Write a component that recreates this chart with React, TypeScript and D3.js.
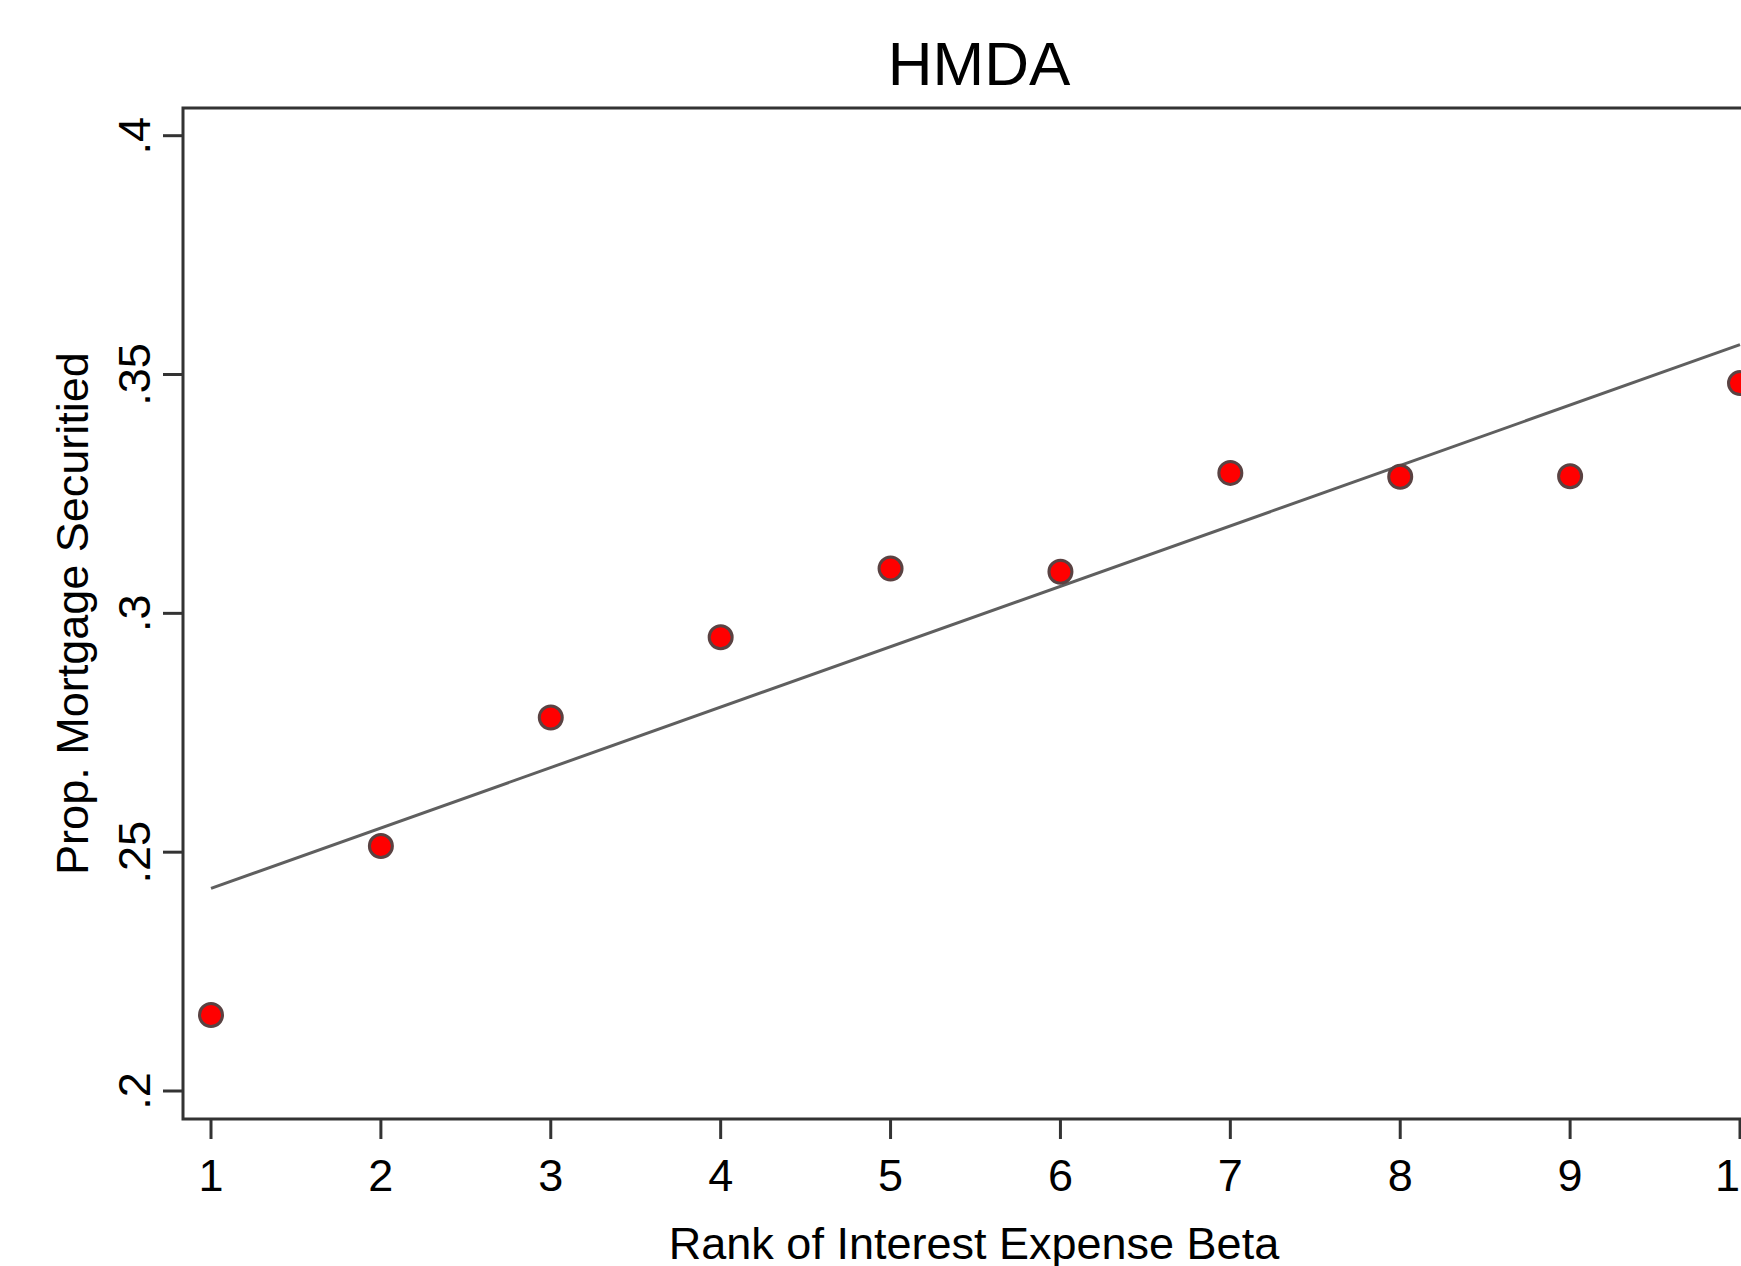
import React, { useEffect } from 'react';
import * as d3 from 'd3';

// data
const ranks = [1, 2, 3, 4, 5, 6, 7, 8, 9, 10];
const propSecuritized = [0.2159, 0.2513, 0.2782, 0.295, 0.3094, 0.3087, 0.3294, 0.3286, 0.3287, 0.3482];
const yTicks = [0.2, 0.25, 0.3, 0.35, 0.4];
const yTickLabels = ['.2', '.25', '.3', '.35', '.4'];
const xTicks = [1, 2, 3, 4, 5, 6, 7, 8, 9, 10];

const W = 1741;
const H = 1266;
const frame = { left: 183, top: 108, right: 1768, bottom: 1119 };
const font = '"Liberation Sans", Arial, sans-serif';

const App = () => {
  useEffect(() => {
    document.body.style.margin = '0';
    document.body.style.overflow = 'hidden';
  }, []);

  const x = d3.scaleLinear().domain([1, 10]).range([211, 1740]);
  const y = d3.scaleLinear().domain([0.2, 0.4]).range([1091, 135.7]);

  // linear fit (least squares) of the points
  const mx = d3.mean(ranks);
  const my = d3.mean(propSecuritized);
  const sxy = d3.sum(ranks, (r, i) => (r - mx) * (propSecuritized[i] - my));
  const sxx = d3.sum(ranks, r => (r - mx) ** 2);
  const slope = sxy / sxx;
  const intercept = my - slope * mx;
  const fitX = [d3.min(ranks), d3.max(ranks)];
  const line = d3.line().x(d => x(d[0])).y(d => y(d[1]));
  const fitPath = line(fitX.map(v => [v, intercept + slope * v]));

  return (
    <svg width={W} height={H} style={{ position: 'absolute', left: 0, top: 0, background: '#fff' }}>
      <rect x={0} y={0} width={W} height={H} fill="#fff" />
      <text x={979} y={85} textAnchor="middle" fontFamily={font} fontSize={62} fill="#000">HMDA</text>

      {/* fit line */}
      <path d={fitPath} fill="none" stroke="#5f5f5f" strokeWidth={3} />

      {/* points */}
      {ranks.map((r, i) => (
        <circle key={r} cx={x(r)} cy={y(propSecuritized[i])} r={11.5}
          fill="#ff0000" stroke="#5a4242" strokeWidth={3} />
      ))}

      {/* plot frame */}
      <rect x={frame.left} y={frame.top} width={frame.right - frame.left} height={frame.bottom - frame.top}
        fill="none" stroke="#333" strokeWidth={3} />

      {/* y axis */}
      {yTicks.map((t, i) => (
        <g key={t}>
          <line x1={163} x2={frame.left} y1={y(t)} y2={y(t)} stroke="#333" strokeWidth={3} />
          <text transform={`translate(150,${y(t)}) rotate(-90)`} textAnchor="middle"
            fontFamily={font} fontSize={45} fill="#000">{yTickLabels[i]}</text>
        </g>
      ))}
      <text transform={`translate(88,${(frame.top + frame.bottom) / 2}) rotate(-90)`} textAnchor="middle"
        fontFamily={font} fontSize={45} fill="#000">Prop. Mortgage Securitied</text>

      {/* x axis */}
      {xTicks.map(t => (
        <g key={t}>
          <line x1={x(t)} x2={x(t)} y1={frame.bottom} y2={1139} stroke="#333" strokeWidth={3} />
          <text x={x(t)} y={1191} textAnchor="middle" fontFamily={font} fontSize={45} fill="#000">{t}</text>
        </g>
      ))}
      <text x={974} y={1259} textAnchor="middle" fontFamily={font} fontSize={45} fill="#000">Rank of Interest Expense Beta</text>
    </svg>
  );
};

export default App;
